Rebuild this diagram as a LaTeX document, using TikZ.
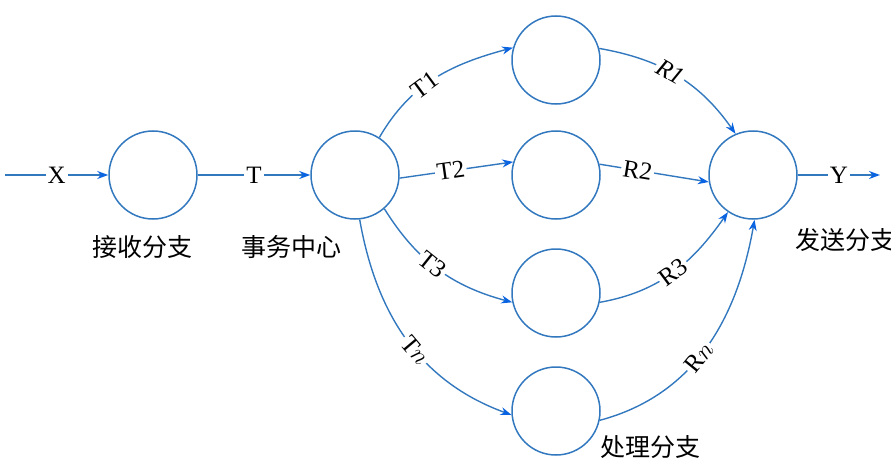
\documentclass[tikz,border=0pt]{standalone}
\usepackage{fontspec}
\setmainfont{Liberation Serif}
\newfontfamily\cjk{Noto Sans CJK SC}
\usetikzlibrary{arrows.meta,positioning}
\definecolor{linecol}{RGB}{50,120,190}
\definecolor{tipcol}{RGB}{10,100,225}
\begin{document}
\begin{tikzpicture}[x=1pt, y=1pt,
    proc/.style={circle, draw=linecol, line width=1.5pt, minimum size=88pt, inner sep=0pt},
    flow/.style={draw=linecol, line width=1.4pt, -{Stealth[length=11pt,width=8pt,fill=tipcol,color=tipcol]}},
    lab/.style={fill=white, inner sep=2pt, font=\fontsize{25}{28}\selectfont},
    branchname/.style={font=\cjk\fontsize{25}{28}\selectfont, inner sep=0pt}]
  \useasboundingbox (0,0) rectangle (891,459);
  % processes
  \node (recv) [proc] at (153,284) {};
  \node (center) [proc] at (355,284) {};
  \node (p1) [proc] at (556,399) {};
  \node (p2) [proc] at (556,284) {};
  \node (p3) [proc] at (556,166) {};
  \node (pn) [proc] at (556,48) {};
  \node (send) [proc] at (753,284) {};
  \coordinate (in) at (5,284);
  \coordinate (out) at (880,284);
  % names
  \node (recvname) [branchname] at (142,212) {接收分支};
  \node (centername) [branchname] at (291,212) {事务中心};
  \node (sendname) [branchname, anchor=west] at (795,219) {发送分支};
  \node (pnname) [branchname, anchor=west] at (600,12) {处理分支};
  % flows
  \draw[flow] (in) -- node [lab] {X} (recv);
  \draw[flow] (recv) -- node [lab] {T} (center);
  \draw[flow] (center.57) to[out=60, in=195] node [lab, sloped, pos=0.42] {T1} (p1.164);
  \draw[flow] (center.-4) -- node [lab, sloped, pos=0.45] {T2} (p2.163);
  \draw[flow] (center.-49) to[out=-58, in=165] node [lab, sloped, pos=0.45] {T3} (p3.192);
  \draw[flow] (center.-84) to[out=-80, in=160] node [lab, sloped, pos=0.55] {T$n$} (pn.185);
  \draw[flow] (p1.15) to[out=-10, in=125] node [lab, sloped, pos=0.45] {\textit{R1}} (send.113);
  \draw[flow] (p2.14) -- node [lab, sloped, pos=0.35] {R2} (send.189);
  \draw[flow] (p3.-12) to[out=10, in=235] node [lab, sloped, pos=0.5] {R3} (send.236);
  \draw[flow] (pn.-12) to[out=15, in=-100] node [lab, sloped, pos=0.45] {R$n$} (send.-88);
  \draw[flow] (send) -- node [lab] {Y} (out);
\end{tikzpicture}
\end{document}
